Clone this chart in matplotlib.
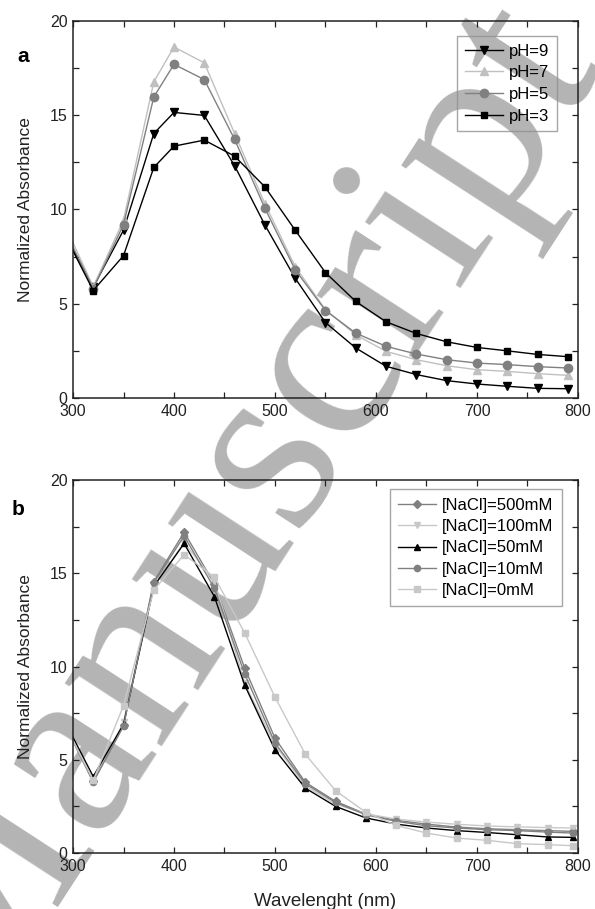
import matplotlib.pyplot as plt
from matplotlib.ticker import MultipleLocator

plt.rcParams['font.family'] = ['Liberation Sans', 'DejaVu Sans']

# panel a: pH series
wl_a = [290, 320, 350, 380, 400, 430, 460, 490, 520, 550, 580, 610, 640, 670, 700, 730, 760, 790]
ph9 = [8.9, 5.88, 8.9, 14.03, 15.15, 14.99, 12.32, 9.18, 6.35, 4.0, 2.65, 1.68, 1.24, 0.92, 0.74, 0.62, 0.51, 0.49]
ph7 = [9.4, 5.9, 9.44, 16.77, 18.62, 17.78, 14.03, 10.3, 6.97, 4.68, 3.35, 2.47, 2.03, 1.71, 1.5, 1.41, 1.29, 1.2]
ph5 = [9.1, 5.8, 9.2, 15.97, 17.7, 16.89, 13.72, 10.06, 6.8, 4.64, 3.44, 2.74, 2.33, 2.03, 1.85, 1.77, 1.66, 1.59]
ph3 = [8.85, 5.7, 7.55, 12.23, 13.36, 13.68, 12.83, 11.2, 8.9, 6.65, 5.12, 4.04, 3.42, 2.98, 2.68, 2.5, 2.31, 2.19]

# panel b: NaCl series
wl_b = [290, 320, 350, 380, 410, 440, 470, 500, 530, 560, 590, 620, 650, 680, 710, 740, 770, 795]
nacl500 = [7.1, 3.84, 6.88, 14.55, 17.2, 14.43, 9.91, 6.16, 3.79, 2.77, 2.09, 1.75, 1.55, 1.39, 1.3, 1.25, 1.2, 1.16]
nacl100 = [7.2, 3.9, 7.0, 14.3, 16.64, 14.6, 9.1, 5.8, 3.6, 2.62, 2.1, 1.82, 1.66, 1.54, 1.45, 1.4, 1.36, 1.34]
nacl50 = [7.25, 4.1, 6.9, 14.3, 16.6, 13.75, 9.0, 5.53, 3.48, 2.5, 1.88, 1.55, 1.34, 1.2, 1.1, 0.98, 0.86, 0.84]
nacl10 = [7.1, 3.8, 6.8, 14.5, 17.0, 14.2, 9.6, 5.9, 3.71, 2.71, 2.05, 1.7, 1.46, 1.34, 1.25, 1.2, 1.12, 1.07]
nacl0 = [7.1, 3.9, 7.9, 14.1, 16.0, 14.8, 11.8, 8.36, 5.3, 3.34, 2.18, 1.48, 1.07, 0.8, 0.68, 0.5, 0.45, 0.39]

fig = plt.figure(figsize=(5.95, 9.09), dpi=100)
ax1 = fig.add_axes([0.1227, 0.5622, 0.8487, 0.4147])
ax2 = fig.add_axes([0.1227, 0.0616, 0.8487, 0.4103])

for ax in (ax1, ax2):
    ax.set_facecolor('none')
    ax.set_zorder(1)
    ax.set_xlim(300, 800)
    ax.set_ylim(0, 20)
    ax.xaxis.set_major_locator(MultipleLocator(100))
    ax.xaxis.set_minor_locator(MultipleLocator(50))
    ax.yaxis.set_major_locator(MultipleLocator(5))
    ax.yaxis.set_minor_locator(MultipleLocator(2.5))
    ax.tick_params(which='both', direction='in', top=True, right=True,
                   length=4.5, width=0.9, labelsize=11.5, colors='#222222', pad=4)
    for s in ax.spines.values():
        s.set_color('#222222')
        s.set_linewidth(1.1)
    ax.set_ylabel('Normalized Absorbance', fontsize=12.5, color='#222222', labelpad=12)

ax1.plot(wl_a, ph9, color='black', marker='v', ms=6, lw=1, label='pH=9')
ax1.plot(wl_a, ph7, color='#c0c0c0', marker='^', ms=6, lw=1, label='pH=7')
ax1.plot(wl_a, ph5, color='#808080', marker='o', ms=6, lw=1, label='pH=5')
ax1.plot(wl_a, ph3, color='black', marker='s', ms=5, lw=1, label='pH=3')
leg1 = ax1.legend(loc='upper right', bbox_to_anchor=(0.958, 0.96), fontsize=12,
                  fancybox=False, edgecolor='#909090',
                  handlelength=2.3, handletextpad=0.35, borderpad=0.45,
                  labelspacing=0.4, borderaxespad=0)
leg1.get_frame().set_facecolor('none')
leg1.get_frame().set_linewidth(1.0)

ax2.plot(wl_b, nacl500, color='#808080', marker='D', ms=4.5, lw=1, label='[NaCl]=500mM')
ax2.plot(wl_b, nacl100, color='#c8c8c8', marker='v', ms=4.5, lw=1, label='[NaCl]=100mM')
ax2.plot(wl_b, nacl50, color='black', marker='^', ms=4.5, lw=1, label='[NaCl]=50mM')
ax2.plot(wl_b, nacl10, color='#808080', marker='o', ms=4.5, lw=1, label='[NaCl]=10mM')
ax2.plot(wl_b, nacl0, color='#c8c8c8', marker='s', ms=4.5, lw=1, label='[NaCl]=0mM')
leg2 = ax2.legend(loc='upper right', bbox_to_anchor=(0.968, 0.975), fontsize=12,
                  fancybox=False, edgecolor='#909090',
                  handlelength=2.3, handletextpad=0.35, borderpad=0.5,
                  labelspacing=0.38, borderaxespad=0)
leg2.get_frame().set_facecolor('none')
leg2.get_frame().set_linewidth(1.0)
ax2.set_xlabel('Wavelenght (nm)', fontsize=13.5, color='#222222', labelpad=14)

fig.text(17 / 595, 1 - 62 / 909, 'a', fontsize=15, fontweight='bold', va='baseline')
fig.text(12 / 595, 1 - 515 / 909, 'b', fontsize=15, fontweight='bold', va='baseline')

# watermark
fig.text(0.397, 0.438, 'Manuscript', fontsize=182, family='Liberation Serif',
         color='#b4b4b4', rotation=57, ha='center', va='center', zorder=0.5)

fig.savefig('out.png', dpi=100)
